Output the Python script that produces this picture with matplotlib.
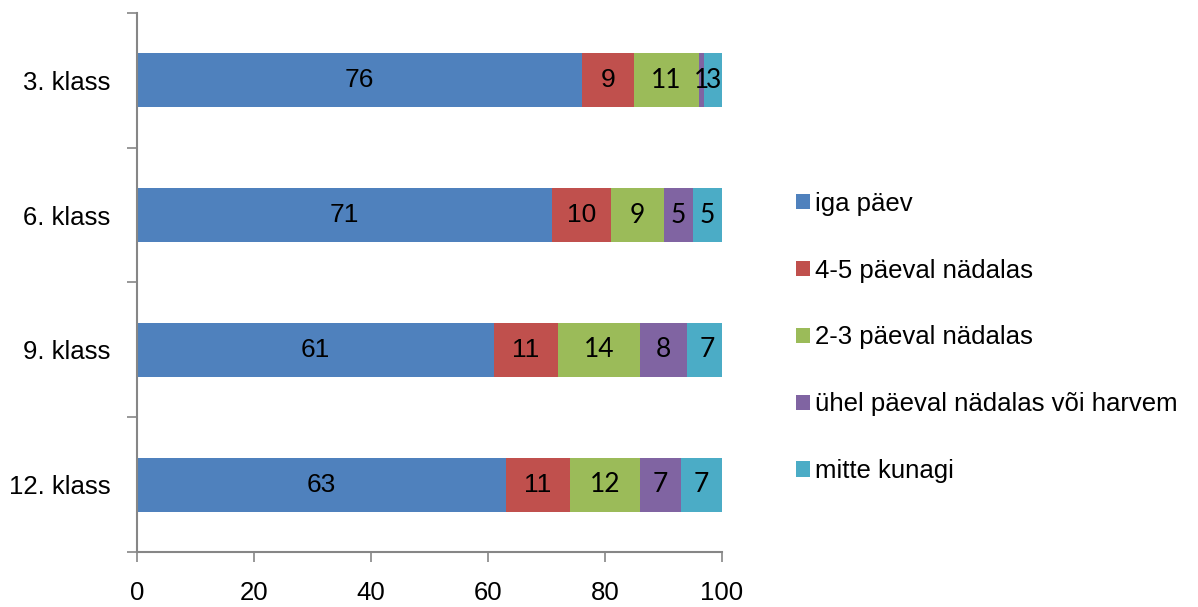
import matplotlib
matplotlib.use('Agg')
import matplotlib.pyplot as plt
import numpy as np

# data
classes = ['3. klass', '6. klass', '9. klass', '12. klass']
series = ['iga päev', '4-5 päeval nädalas', '2-3 päeval nädalas',
          'ühel päeval nädalas või harvem', 'mitte kunagi']
iga_paev = [76, 71, 61, 63]
paeval_4_5 = [9, 10, 11, 11]
paeval_2_3 = [11, 9, 14, 12]
uhel_paeval = [1, 5, 8, 7]
mitte_kunagi = [3, 5, 7, 7]
x_ticks = [0, 20, 40, 60, 80, 100]

colors = ['#4F81BD', '#C0504D', '#9BBB59', '#8064A2', '#4BACC6']
label_fonts = ['Liberation Sans', 'Liberation Sans', 'Lato', 'Lato', 'Lato']

plt.rcParams['font.family'] = ['Liberation Sans', 'DejaVu Sans']

fig = plt.figure(figsize=(11.98, 6.07), dpi=100)
ax = fig.add_axes([0.1144, 0.0906, 0.6027 - 0.1144, 0.9786 - 0.0906])

values = [iga_paev, paeval_4_5, paeval_2_3, uhel_paeval, mitte_kunagi]
y = np.arange(len(classes))
left = np.zeros(len(classes))
for vals, name, col, fnt in zip(values, series, colors, label_fonts):
    vals = np.array(vals, dtype=float)
    ax.barh(y, vals, left=left, height=0.4, color=col, label=name)
    for yi, l, v in zip(y, left, vals):
        ax.text(l + v / 2, yi, f'{int(v)}', ha='center', va='center',
                fontsize=19, family=fnt, color='black')
    left += vals

ax.set_xlim(0, 100)
ax.set_ylim(3.5, -0.5)
ax.set_xticks(x_ticks)
ax.set_xticklabels([str(t) for t in x_ticks], fontsize=18.5)
ax.set_yticks(np.arange(-0.5, 4, 1))
ax.set_yticklabels([])
ax.set_yticks(y, minor=True)
ax.set_yticklabels(classes, minor=True, fontsize=18.5)
ax.tick_params(axis='y', which='minor', length=0, pad=19)
ax.tick_params(axis='y', which='major', length=7, color='#868686', width=1.2)
ax.tick_params(axis='x', length=7, color='#868686', width=1.2, pad=14)

for s in ['top', 'right']:
    ax.spines[s].set_visible(False)
for s in ['left', 'bottom']:
    ax.spines[s].set_color('#868686')
    ax.spines[s].set_linewidth(1.5)

fig.legend(loc='center left', bbox_to_anchor=(0.656, 0.444), frameon=False,
           fontsize=18.5, handlelength=0.55, handleheight=0.55,
           handletextpad=0.2, labelspacing=1.67, borderaxespad=0)

plt.savefig('out.png', dpi=100)
